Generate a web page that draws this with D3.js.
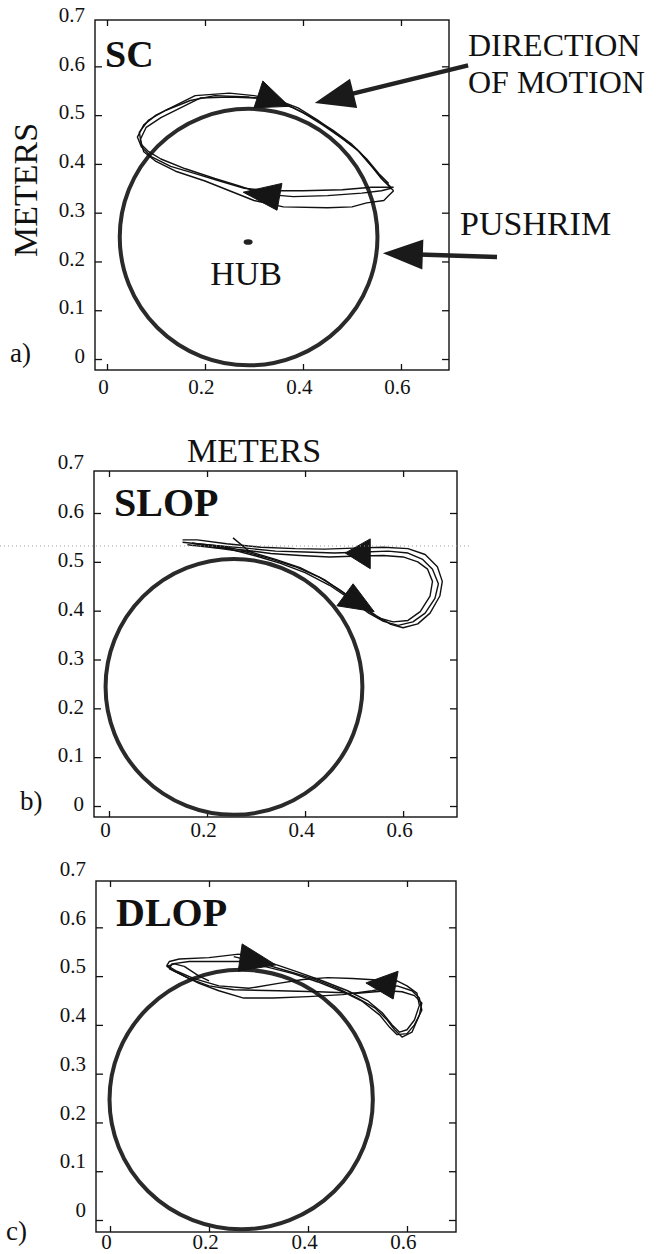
<!DOCTYPE html>
<html>
<head>
<meta charset="utf-8">
<script src="https://cdn.jsdelivr.net/npm/d3@7"></script>
<style>
  body { margin: 0; background: #fff; }
  text { font-family: "Liberation Serif", "Times New Roman", "DejaVu Serif", serif; fill: #111; }
</style>
</head>
<body>
<div id="chart"></div>
<script>
// tick values
const xTicks = [0, 0.2, 0.4, 0.6];
const yTicks = [0, 0.1, 0.2, 0.3, 0.4, 0.5, 0.6, 0.7];

const panelNames = ["SC", "SLOP", "DLOP"];
const panelTags = ["a)", "b)", "c)"];

// pushrim circles (meters)
const rimCenters = [[0.289, 0.25], [0.255, 0.244], [0.265, 0.247]];
const rimRadii = [0.263, 0.262, 0.266];
const hubPos = [0.288, 0.24];

// hand trajectories, one array per stroke cycle
const tracesSC = [
  [[0.58,0.352],[0.56,0.37],[0.54,0.395],[0.51,0.43],[0.47,0.46],[0.43,0.49],[0.39,0.515],[0.35,0.53],[0.30,0.54],[0.25,0.545],[0.18,0.54],[0.14,0.52],[0.10,0.50],[0.075,0.48],[0.062,0.455],[0.07,0.435],[0.09,0.415],[0.13,0.395],[0.18,0.38],[0.23,0.365],[0.28,0.35],[0.33,0.345],[0.40,0.345],[0.48,0.347],[0.54,0.352],[0.585,0.352]],
  [[0.585,0.345],[0.565,0.365],[0.545,0.39],[0.515,0.425],[0.48,0.452],[0.44,0.48],[0.40,0.505],[0.36,0.525],[0.31,0.535],[0.25,0.537],[0.19,0.535],[0.15,0.515],[0.11,0.495],[0.08,0.475],[0.068,0.45],[0.075,0.425],[0.10,0.405],[0.14,0.385],[0.20,0.365],[0.25,0.345],[0.30,0.325],[0.36,0.312],[0.45,0.31],[0.50,0.312],[0.53,0.32],[0.565,0.325],[0.575,0.335],[0.585,0.345]],
  [[0.575,0.36],[0.555,0.38],[0.53,0.41],[0.50,0.44],[0.46,0.47],[0.42,0.495],[0.38,0.515],[0.34,0.53],[0.29,0.537],[0.22,0.54],[0.17,0.53],[0.12,0.51],[0.085,0.49],[0.066,0.465],[0.07,0.44],[0.085,0.425],[0.11,0.41],[0.16,0.39],[0.22,0.37],[0.27,0.355],[0.32,0.338],[0.38,0.333],[0.45,0.335],[0.52,0.34],[0.56,0.345],[0.58,0.35]]
];
const tracesSLOP = [
  [[0.15,0.54],[0.20,0.535],[0.25,0.525],[0.30,0.512],[0.35,0.497],[0.40,0.478],[0.45,0.452],[0.49,0.425],[0.53,0.395],[0.56,0.378],[0.59,0.37],[0.62,0.377],[0.645,0.395],[0.665,0.425],[0.672,0.455],[0.66,0.485],[0.64,0.505],[0.61,0.518],[0.57,0.522],[0.52,0.52],[0.46,0.518],[0.40,0.52],[0.34,0.522],[0.28,0.528],[0.22,0.533],[0.17,0.538],[0.15,0.54]],
  [[0.16,0.535],[0.22,0.528],[0.28,0.52],[0.33,0.506],[0.38,0.49],[0.43,0.468],[0.47,0.443],[0.51,0.415],[0.545,0.39],[0.575,0.372],[0.60,0.365],[0.63,0.373],[0.655,0.395],[0.675,0.43],[0.68,0.46],[0.67,0.49],[0.645,0.515],[0.61,0.527],[0.56,0.53],[0.50,0.528],[0.44,0.526],[0.38,0.527],[0.31,0.53],[0.24,0.537],[0.18,0.545],[0.15,0.545]],
  [[0.17,0.538],[0.23,0.532],[0.29,0.52],[0.34,0.505],[0.39,0.488],[0.44,0.463],[0.48,0.435],[0.52,0.405],[0.55,0.385],[0.58,0.377],[0.61,0.38],[0.635,0.398],[0.655,0.43],[0.66,0.46],[0.65,0.485],[0.63,0.5],[0.60,0.51],[0.56,0.513],[0.51,0.512],[0.45,0.51],[0.39,0.513],[0.33,0.517],[0.27,0.525],[0.21,0.53],[0.17,0.538]],
  [[0.253,0.549],[0.288,0.52]]
];
const tracesDLOP = [
  [[0.26,0.545],[0.30,0.535],[0.34,0.522],[0.38,0.508],[0.43,0.49],[0.48,0.47],[0.52,0.45],[0.55,0.425],[0.57,0.40],[0.585,0.385],[0.60,0.39],[0.615,0.41],[0.625,0.44],[0.62,0.465],[0.60,0.48],[0.58,0.49],[0.54,0.492],[0.49,0.495],[0.44,0.497],[0.39,0.493],[0.34,0.485],[0.28,0.475],[0.22,0.48],[0.17,0.495],[0.135,0.51],[0.115,0.522],[0.12,0.53],[0.14,0.535],[0.20,0.538],[0.26,0.545]],
  [[0.27,0.53],[0.32,0.518],[0.37,0.505],[0.42,0.488],[0.47,0.468],[0.51,0.448],[0.545,0.42],[0.565,0.395],[0.58,0.38],[0.60,0.382],[0.615,0.40],[0.63,0.43],[0.625,0.455],[0.61,0.47],[0.58,0.48],[0.53,0.47],[0.47,0.462],[0.40,0.458],[0.33,0.455],[0.27,0.455],[0.22,0.47],[0.18,0.485],[0.14,0.505],[0.12,0.515],[0.125,0.525],[0.16,0.53],[0.21,0.53],[0.27,0.53]],
  [[0.25,0.54],[0.31,0.525],[0.36,0.51],[0.41,0.495],[0.46,0.475],[0.50,0.455],[0.535,0.435],[0.56,0.41],[0.575,0.39],[0.59,0.375],[0.61,0.385],[0.625,0.42],[0.63,0.445],[0.615,0.46],[0.59,0.468],[0.56,0.47],[0.50,0.465],[0.42,0.468],[0.34,0.47],[0.25,0.472],[0.20,0.48],[0.16,0.495],[0.13,0.51],[0.115,0.52],[0.13,0.525],[0.15,0.52],[0.18,0.50],[0.20,0.49]]
];
const allTraces = [tracesSC, tracesSLOP, tracesDLOP];

// direction-of-motion heads drawn on the traces (three corners each)
const headsSC = [[[0.318,0.57],[0.30,0.515],[0.372,0.518]], [[0.357,0.36],[0.347,0.305],[0.278,0.342]]];
const headsSLOP = [[[0.533,0.547],[0.533,0.486],[0.482,0.518]], [[0.498,0.455],[0.465,0.41],[0.541,0.398]]];
const headsDLOP = [[[0.267,0.566],[0.259,0.51],[0.335,0.523]], [[0.582,0.51],[0.572,0.453],[0.517,0.486]]];
const allHeads = [headsSC, headsSLOP, headsDLOP];

// callouts of panel a (tail, tip) in its units
const calloutText = [["DIRECTION", "OF MOTION"], ["PUSHRIM"]];
const calloutTail = [[0.737, 0.602], [0.796, 0.209]];
const calloutTip = [[0.424, 0.525], [0.563, 0.217]];

const W = 665, H = 1254;

// frame boxes in pixels and the axis window each one shows
const panels = [
  {l: 95, t: 20, r: 449, b: 370, xd: [-0.0245, 0.698], yd: [-0.0225, 0.695], labelDy: -3, padX: 9},
  {l: 94, t: 471, r: 457, b: 817, xd: [-0.0306, 0.710], yd: [-0.0225, 0.686], labelDy: -2, padX: 5},
  {l: 96, t: 881, r: 456, b: 1232, xd: [-0.0283, 0.699], yd: [-0.0246, 0.695], labelDy: -10, padX: 2}
];

const svg = d3.select("#chart")
  .append("svg")
    .attr("width", W)
    .attr("height", H);

const fmt = d => d === 0 ? "0" : d3.format(".1f")(d);

let scalesA;

panels.forEach(function(p, i) {
  let x = d3.scaleLinear().domain(p.xd).range([p.l, p.r]);
  let y = d3.scaleLinear().domain(p.yd).range([p.b, p.t]);
  if (i === 0) scalesA = {x: x, y: y};

  let g = svg.append("g");

  // left axis with labels, ticks point inward
  let left = g.append("g")
    .attr("transform", "translate(" + p.l + ",0)")
    .call(d3.axisLeft(y).tickValues(yTicks).tickSize(-7).tickPadding(10).tickFormat(fmt));
  left.selectAll(".tick").filter(d => d > 0.65).select("line").remove();
  left.selectAll("text").attr("dy", "0.32em").attr("transform", "translate(0," + p.labelDy + ")");

  g.append("g")
    .attr("transform", "translate(" + p.r + ",0)")
    .call(d3.axisRight(y).tickValues(yTicks.slice(0, 7)).tickSize(-7).tickFormat(""));

  let bottom = g.append("g")
    .attr("transform", "translate(0," + p.b + ")")
    .call(d3.axisBottom(x).tickValues(xTicks).tickSize(-6).tickPadding(p.padX).tickFormat(fmt));
  bottom.selectAll("text").attr("dx", "-4");

  g.append("g")
    .attr("transform", "translate(0," + p.t + ")")
    .call(d3.axisTop(x).tickValues(xTicks).tickSize(-6).tickFormat(""));

  g.selectAll(".domain").remove();
  g.selectAll(".tick line").attr("stroke", "#111").attr("stroke-width", 1.3);
  g.selectAll("g").attr("font-family", null);
  g.selectAll(".tick text").style("font-size", "21px").attr("fill", "#111");

  // frame
  g.append("rect")
    .attr("x", p.l).attr("y", p.t)
    .attr("width", p.r - p.l).attr("height", p.b - p.t)
    .attr("fill", "none").attr("stroke", "#111").attr("stroke-width", 1.4);

  // pushrim
  let c = rimCenters[i];
  g.append("ellipse")
    .attr("cx", x(c[0])).attr("cy", y(c[1]))
    .attr("rx", x(c[0] + rimRadii[i]) - x(c[0]))
    .attr("ry", y(c[1]) - y(c[1] + rimRadii[i]))
    .attr("fill", "none").attr("stroke", "#2a2a2a").attr("stroke-width", 4);

  // hand traces
  let line = d3.line().x(d => x(d[0])).y(d => y(d[1]));
  g.selectAll(".trace")
    .data(allTraces[i])
    .enter()
    .append("path")
      .attr("d", line)
      .attr("fill", "none")
      .attr("stroke", "#111")
      .attr("stroke-width", 1.4)
      .attr("stroke-linejoin", "round");

  // heads on the traces
  g.selectAll(".head")
    .data(allHeads[i])
    .enter()
    .append("path")
      .attr("d", d => line(d) + "Z")
      .attr("fill", "#151515")
      .attr("stroke", "#151515")
      .attr("stroke-width", 1);

  // name inside the frame
  g.append("text")
    .attr("x", p.l + (i === 0 ? 10 : 20))
    .attr("y", p.t + (i === 0 ? 47 : 45))
    .style("font-size", i === 0 ? "38px" : "40px")
    .style("font-weight", "bold")
    .text(panelNames[i]);
});

// tags a) b) c)
const tagPos = [[10, 362], [20, 810], [6, 1240]];
svg.selectAll(".tag")
  .data(panelTags)
  .enter()
  .append("text")
    .attr("x", (d, i) => tagPos[i][0])
    .attr("y", (d, i) => tagPos[i][1])
    .style("font-size", "27px")
    .text(d => d);

// axis titles
svg.append("text")
  .attr("transform", "translate(37,190)rotate(-90)")
  .attr("text-anchor", "middle")
  .style("font-size", "34px")
  .text("METERS");

svg.append("text")
  .attr("x", 254).attr("y", 462)
  .attr("text-anchor", "middle")
  .style("font-size", "34px")
  .text("METERS");

// hub
let xa = scalesA.x, ya = scalesA.y;
svg.append("ellipse")
  .attr("cx", xa(hubPos[0])).attr("cy", ya(hubPos[1]))
  .attr("rx", 4.5).attr("ry", 2.8)
  .attr("fill", "#222");
svg.append("text")
  .attr("x", xa(hubPos[0]) - 2).attr("y", ya(hubPos[1]) + 43)
  .attr("text-anchor", "middle")
  .style("font-size", "34px")
  .text("HUB");

// callout arrows
calloutTail.forEach(function(t, k) {
  let x0 = xa(t[0]), y0 = ya(t[1]);
  let x1 = xa(calloutTip[k][0]), y1 = ya(calloutTip[k][1]);
  let dx = x1 - x0, dy = y1 - y0, len = Math.hypot(dx, dy);
  let ux = dx / len, uy = dy / len;
  let headLen = 40, half = 15;
  let bx = x1 - ux * headLen, by = y1 - uy * headLen;
  svg.append("line")
    .attr("x1", x0).attr("y1", y0).attr("x2", bx + ux * 4).attr("y2", by + uy * 4)
    .attr("stroke", "#222").attr("stroke-width", 4.5);
  svg.append("path")
    .attr("d", "M" + x1 + "," + y1 + "L" + (bx - uy * half) + "," + (by + ux * half) +
               "L" + (bx + uy * half) + "," + (by - ux * half) + "Z")
    .attr("fill", "#1a1a1a");
});

const calloutPos = [[468, 56], [460, 235]];
calloutText.forEach(function(lines, k) {
  let tx = svg.append("text")
    .attr("x", calloutPos[k][0]).attr("y", calloutPos[k][1])
    .style("font-size", k === 0 ? "32px" : "34px")
    .attr("textLength", k === 0 ? null : null);
  lines.forEach(function(s, j) {
    tx.append("tspan")
      .attr("x", calloutPos[k][0])
      .attr("dy", j === 0 ? 0 : 37)
      .text(s);
  });
});

// faint scan line across panel b
svg.append("line")
  .attr("x1", 0).attr("y1", 546).attr("x2", 470).attr("y2", 546)
  .attr("stroke", "#999").attr("stroke-width", 1).attr("stroke-dasharray", "1,3");
</script>
</body>
</html>
